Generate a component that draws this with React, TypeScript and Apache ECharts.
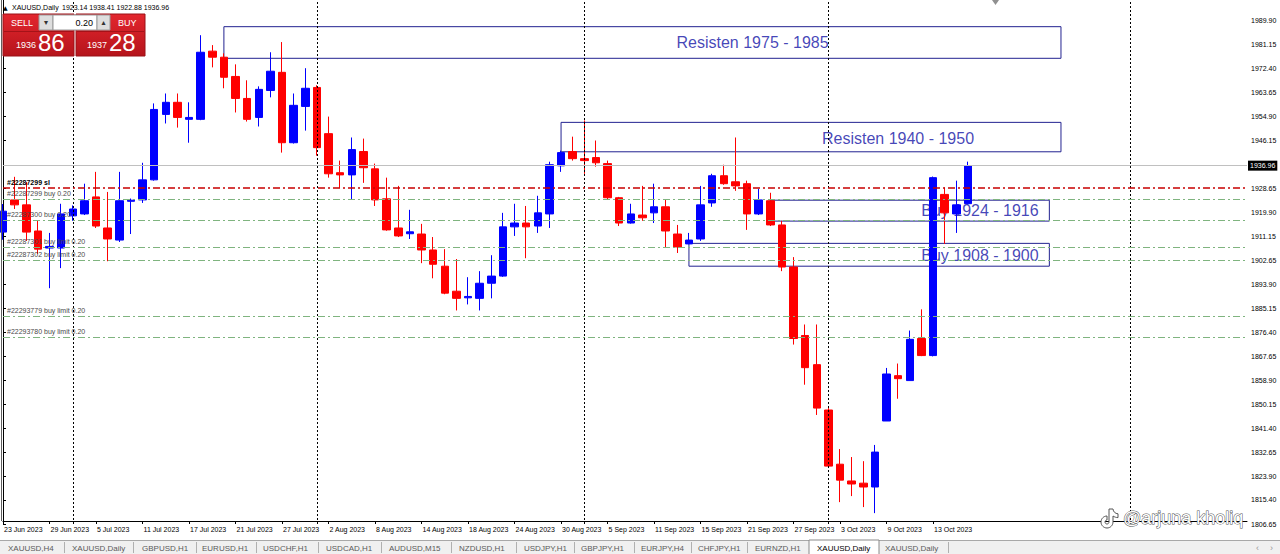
import React, { useEffect, useRef } from 'react';
import * as echarts from 'echarts';

// [open, high, low, close] for each daily bar, 23 Jun 2023 -> 18 Oct 2023
const ohlc: number[][] = [
  [1912.8, 1923.0, 1910.0, 1920.4],
  [1924.5, 1932.9, 1921.2, 1922.7],
  [1922.7, 1931.0, 1909.6, 1912.8],
  [1913.2, 1916.9, 1904.8, 1906.6],
  [1907.0, 1912.5, 1892.4, 1907.6],
  [1907.0, 1923.1, 1899.7, 1919.4],
  [1918.7, 1922.5, 1916.9, 1921.2],
  [1919.4, 1930.4, 1919.0, 1924.2],
  [1925.6, 1934.7, 1914.3, 1915.0],
  [1914.3, 1927.4, 1902.2, 1910.3],
  [1909.9, 1934.7, 1909.2, 1924.2],
  [1924.0, 1925.0, 1912.1, 1924.4],
  [1924.5, 1938.0, 1923.4, 1931.8],
  [1931.8, 1959.6, 1931.5, 1957.4],
  [1955.6, 1963.2, 1952.3, 1960.0],
  [1960.0, 1963.2, 1950.8, 1954.5],
  [1953.8, 1960.0, 1945.3, 1954.5],
  [1953.8, 1984.4, 1953.5, 1978.2],
  [1978.6, 1980.8, 1972.7, 1976.4],
  [1976.4, 1977.8, 1965.1, 1969.1],
  [1969.4, 1973.8, 1956.3, 1961.4],
  [1961.4, 1968.0, 1953.0, 1953.8],
  [1954.5, 1965.8, 1951.2, 1964.7],
  [1964.3, 1978.2, 1961.8, 1971.3],
  [1970.9, 1981.9, 1941.7, 1945.3],
  [1945.3, 1963.2, 1945.0, 1958.9],
  [1958.5, 1972.4, 1949.7, 1965.1],
  [1965.4, 1966.2, 1940.6, 1943.5],
  [1948.6, 1954.8, 1932.6, 1934.0],
  [1934.4, 1938.8, 1928.9, 1933.6],
  [1933.6, 1947.2, 1924.5, 1942.8],
  [1942.1, 1946.8, 1930.7, 1936.2],
  [1935.8, 1937.7, 1922.3, 1924.5],
  [1924.9, 1932.6, 1913.3, 1913.6],
  [1914.3, 1929.6, 1911.0, 1911.4],
  [1912.2, 1920.9, 1910.3, 1912.9],
  [1912.1, 1915.8, 1901.5, 1906.3],
  [1906.3, 1911.0, 1896.0, 1901.1],
  [1900.4, 1906.6, 1890.2, 1890.6],
  [1891.3, 1903.0, 1884.3, 1888.7],
  [1888.9, 1896.4, 1886.5, 1889.4],
  [1888.7, 1898.6, 1884.3, 1894.2],
  [1894.2, 1904.4, 1888.7, 1896.8],
  [1896.8, 1919.8, 1896.5, 1914.7],
  [1914.7, 1923.1, 1911.4, 1916.1],
  [1916.1, 1922.3, 1903.3, 1914.7],
  [1915.0, 1926.0, 1912.5, 1919.8],
  [1919.4, 1938.4, 1914.3, 1937.3],
  [1936.9, 1942.4, 1934.7, 1941.7],
  [1942.1, 1947.5, 1938.8, 1939.5],
  [1939.5, 1953.4, 1934.0, 1938.8],
  [1939.9, 1946.1, 1936.6, 1938.0],
  [1937.7, 1938.8, 1924.5, 1925.3],
  [1925.3, 1925.6, 1915.0, 1916.1],
  [1916.1, 1923.1, 1915.9, 1919.4],
  [1919.0, 1929.6, 1916.9, 1918.0],
  [1919.8, 1930.4, 1916.1, 1922.0],
  [1922.0, 1924.5, 1907.0, 1913.2],
  [1912.1, 1915.4, 1905.2, 1907.4],
  [1908.5, 1912.5, 1908.4, 1909.9],
  [1910.3, 1929.6, 1909.6, 1922.7],
  [1923.4, 1934.0, 1922.0, 1933.3],
  [1933.3, 1937.3, 1930.0, 1930.4],
  [1931.1, 1947.2, 1927.8, 1929.6],
  [1930.4, 1931.5, 1913.6, 1919.4],
  [1919.4, 1928.5, 1919.0, 1924.5],
  [1924.2, 1927.1, 1915.0, 1915.4],
  [1915.4, 1916.9, 1898.6, 1900.1],
  [1900.1, 1903.7, 1871.9, 1874.1],
  [1875.2, 1879.2, 1857.3, 1863.5],
  [1864.6, 1879.2, 1846.3, 1848.8],
  [1848.1, 1848.8, 1827.0, 1827.7],
  [1828.4, 1833.9, 1814.6, 1822.6],
  [1822.3, 1831.0, 1816.8, 1821.2],
  [1821.5, 1829.5, 1812.8, 1820.1],
  [1820.1, 1835.4, 1810.6, 1832.8],
  [1844.1, 1863.4, 1844.1, 1861.2],
  [1860.6, 1865.0, 1852.2, 1859.5],
  [1858.8, 1877.0, 1858.8, 1873.8],
  [1874.1, 1884.7, 1867.7, 1867.9],
  [1867.9, 1933.0, 1867.6, 1932.6],
  [1926.5, 1929.0, 1908.5, 1919.8],
  [1919.4, 1931.5, 1912.5, 1922.7],
  [1923.14, 1938.41, 1922.88, 1936.96],
];

const TOTAL_SLOTS = 108; // bars + empty future space to the right
const dateLabels = [
  '23 Jun 2023', '29 Jun 2023', '5 Jul 2023', '11 Jul 2023', '17 Jul 2023', '21 Jul 2023',
  '27 Jul 2023', '2 Aug 2023', '8 Aug 2023', '14 Aug 2023', '18 Aug 2023', '24 Aug 2023',
  '30 Aug 2023', '5 Sep 2023', '11 Sep 2023', '15 Sep 2023', '21 Sep 2023', '27 Sep 2023',
  '3 Oct 2023', '9 Oct 2023', '13 Oct 2023',
];
const priceTicks = [
  1806.65, 1815.4, 1823.9, 1832.65, 1841.4, 1850.15, 1858.9, 1867.65, 1876.4, 1885.15,
  1893.9, 1902.65, 1911.15, 1919.9, 1928.65, 1946.15, 1954.9, 1963.65, 1972.4, 1981.15, 1989.9,
];
const bidPrice = 1936.96;
const separatorBars = [6, 27, 50, 71, 97];

const orderNames = [
  '#22287299 sl', '#22287299 buy 0.20', '#22287300 buy 0.20', '#22287301 buy limit 0.20',
  '#22287302 buy limit 0.20', '#22293779 buy limit 0.20', '#22293780 buy limit 0.20',
];
const orderPrices = [1928.8, 1924.8, 1917.2, 1907.35, 1902.6, 1882.3, 1874.6];

const zoneFrom = [19, 48, 66, 59];
const zoneTo = [91, 91, 90, 90];
const zoneTop = [1987.5, 1952.7, 1924.4, 1908.7];
const zoneBottom = [1976.0, 1942.0, 1916.8, 1900.4];

const noteTexts = ['Resisten 1975 - 1985', 'Resisten 1940 - 1950', 'Buy 1924 - 1916', 'Buy 1908 - 1900'];
const noteBar = [64.47, 76.98, 84.03, 84.03];
const notePrice = [1981.9, 1947.0, 1920.8, 1904.45];

const tabNames = [
  'XAUUSD,H4', 'XAUUSD,Daily', 'GBPUSD,H1', 'EURUSD,H1', 'USDCHF,H1', 'USDCAD,H1', 'AUDUSD,M15',
  'NZDUSD,H1', 'USDJPY,H1', 'GBPJPY,H1', 'EURJPY,H4', 'CHFJPY,H1', 'EURNZD,H1', 'XAUUSD,Daily', 'XAUUSD,Daily',
];
const tabX = [8, 72, 142, 202, 263, 326, 389, 459, 524, 581, 641, 698, 755, 817, 885];
const tabSepX = [64, 133, 196, 256, 318, 381, 451, 516, 574, 634, 691, 747, 948];
const ACTIVE_TAB = 13;

const FONT = '"Liberation Sans", Arial, sans-serif';

echarts.graphic.registerShape(
  'tiktok',
  echarts.graphic.extendPath(
    'M9 1H13C13.3 3.8 15.2 5.6 18 5.8V9.6C16.2 9.6 14.5 9 13 8V14C13 17.3 10.3 20 7 20C3.7 20 1 17.3 1 14C1 10.7 3.7 8 7 8V12C5.9 12 5 12.9 5 14C5 15.1 5.9 16 7 16C8.1 16 9 15.1 9 14Z',
    {}
  ) as any
);

export default function App() {
  const ref = useRef<HTMLDivElement>(null);
  useEffect(() => {
    document.body.style.margin = '0';
    const chart = echarts.init(ref.current!, null, { renderer: 'svg' });
    const categories = Array.from({ length: TOTAL_SLOTS }, (_, i) => String(i));
    const candles = ohlc.map(([o, h, l, c]) => [o, c, l, h]);

    const redGrad = () =>
      new echarts.graphic.LinearGradient(0, 0, 0, 1, [
        { offset: 0, color: '#e3262e' },
        { offset: 1, color: '#b5141b' },
      ]);

    const markLines: any[] = [];
    separatorBars.forEach((b) =>
      markLines.push({
        xAxis: b,
        lineStyle: { color: '#000', type: [2, 2], width: 1 },
        label: { show: false },
      })
    );
    orderNames.forEach((n, i) => {
      const sl = i === 0;
      markLines.push({
        yAxis: orderPrices[i],
        name: n,
        lineStyle: sl
          ? { color: '#c80000', type: [7, 3, 2, 3], width: 1.5 }
          : { color: '#7fb47f', type: [7, 3, 2, 3], width: 1 },
        label: {
          show: true,
          position: 'insideStartTop',
          formatter: '{b}',
          color: sl ? '#000' : '#4a4a4a',
          fontWeight: sl ? 'bold' : 'normal',
          fontSize: 7,
          fontFamily: FONT,
          distance: [4, 2],
        },
      });
    });
    markLines.push({
      yAxis: bidPrice,
      lineStyle: { color: '#c0c0c0', type: 'solid', width: 1 },
      label: {
        show: true,
        position: 'end',
        formatter: bidPrice.toFixed(2),
        backgroundColor: '#000',
        color: '#fff',
        fontSize: 7,
        fontFamily: FONT,
        padding: [2, 2, 1, 2],
        distance: 1,
      },
    });

    const markAreas = zoneFrom.map((f, i) => [
      {
        xAxis: f,
        yAxis: zoneTop[i],
        itemStyle: { color: 'rgba(0,0,0,0)', borderColor: '#222290', borderWidth: 1 },
        label: { show: false },
      },
      { xAxis: zoneTo[i], yAxis: zoneBottom[i] },
    ]);

    const graphics: any[] = [
      { type: 'line', shape: { x1: 1.5, y1: 0, x2: 1.5, y2: 521 }, style: { stroke: '#606060', lineWidth: 1 }, z: 10 },
      { type: 'polygon', shape: { points: [[992, 0], [999, 0], [995.5, 5]] }, style: { fill: '#909090' }, z: 10 },
      { type: 'text', x: 3, y: 7, style: { text: '▲', fontSize: 6, fill: '#000', fontFamily: 'DejaVu Sans', verticalAlign: 'middle' }, z: 10 },
      { type: 'text', x: 12, y: 7, style: { text: 'XAUUSD,Daily', fontSize: 7, fill: '#000', fontFamily: FONT, verticalAlign: 'middle' }, z: 10 },
      { type: 'text', x: 62, y: 7, style: { text: '1923.14 1938.41 1922.88 1936.96', fontSize: 7, fill: '#000', fontFamily: FONT, verticalAlign: 'middle' }, z: 10 },
      { type: 'rect', shape: { x: 3, y: 14, width: 71, height: 42 }, style: { fill: redGrad(), stroke: '#9a1016', lineWidth: 1 }, z: 10 },
      { type: 'rect', shape: { x: 76, y: 14, width: 69, height: 42 }, style: { fill: redGrad(), stroke: '#9a1016', lineWidth: 1 }, z: 10 },
      { type: 'line', shape: { x1: 4, y1: 31.5, x2: 73, y2: 31.5 }, style: { stroke: '#a51218', lineWidth: 1 }, z: 11 },
      { type: 'line', shape: { x1: 77, y1: 31.5, x2: 144, y2: 31.5 }, style: { stroke: '#a51218', lineWidth: 1 }, z: 11 },
      { type: 'rect', shape: { x: 39, y: 15, width: 14, height: 15 }, style: { fill: '#dedede', stroke: '#9a9a9a', lineWidth: 1 }, z: 12 },
      { type: 'rect', shape: { x: 53, y: 15, width: 44, height: 15 }, style: { fill: '#ffffff', stroke: '#9a9a9a', lineWidth: 1 }, z: 12 },
      { type: 'rect', shape: { x: 97, y: 15, width: 13, height: 15 }, style: { fill: '#dedede', stroke: '#9a9a9a', lineWidth: 1 }, z: 12 },
      { type: 'text', x: 46, y: 22.5, style: { text: '▾', fontSize: 8, fill: '#333', fontFamily: 'DejaVu Sans', align: 'center', verticalAlign: 'middle' }, z: 13 },
      { type: 'text', x: 103.5, y: 22.5, style: { text: '▴', fontSize: 8, fill: '#333', fontFamily: 'DejaVu Sans', align: 'center', verticalAlign: 'middle' }, z: 13 },
      { type: 'text', x: 93, y: 22.5, style: { text: '0.20', fontSize: 9, fill: '#000', fontFamily: FONT, align: 'right', verticalAlign: 'middle' }, z: 13 },
      { type: 'text', x: 11, y: 22.5, style: { text: 'SELL', fontSize: 9, fill: '#fff', fontFamily: FONT, verticalAlign: 'middle' }, z: 13 },
      { type: 'text', x: 118, y: 22.5, style: { text: 'BUY', fontSize: 9, fill: '#fff', fontFamily: FONT, verticalAlign: 'middle' }, z: 13 },
      { type: 'text', x: 16, y: 45, style: { text: '1936', fontSize: 9, fill: '#fff', fontFamily: FONT, verticalAlign: 'middle' }, z: 13 },
      { type: 'text', x: 38, y: 42, style: { text: '86', fontSize: 24, fill: '#fff', fontFamily: FONT, verticalAlign: 'middle' }, z: 13 },
      { type: 'text', x: 87, y: 45, style: { text: '1937', fontSize: 9, fill: '#fff', fontFamily: FONT, verticalAlign: 'middle' }, z: 13 },
      { type: 'text', x: 109, y: 42, style: { text: '28', fontSize: 24, fill: '#fff', fontFamily: FONT, verticalAlign: 'middle' }, z: 13 },
      { type: 'rect', shape: { x: 0, y: 540, width: 1280, height: 14 }, style: { fill: '#f0f0f0' }, z: 10 },
      { type: 'line', shape: { x1: 0, y1: 540.5, x2: 1280, y2: 540.5 }, style: { stroke: '#a8a8a8', lineWidth: 1 }, z: 11 },
      { type: 'rect', shape: { x: 809, y: 540, width: 70, height: 15 }, style: { fill: '#fff', stroke: '#8a8a8a', lineWidth: 1 }, z: 12 },
      { type: 'text', x: 1256, y: 548, style: { text: '‹', fontSize: 9, fill: '#999', fontFamily: FONT, verticalAlign: 'middle' }, z: 12 },
      { type: 'text', x: 1270, y: 548, style: { text: '›', fontSize: 9, fill: '#999', fontFamily: FONT, verticalAlign: 'middle' }, z: 12 },
      { type: 'tiktok', x: 1100, y: 508, scaleX: 1, scaleY: 1, style: { fill: '#fff', stroke: '#555', lineWidth: 1 }, z: 20 },
      { type: 'text', x: 1123, y: 518, style: { text: '@arjuna kholiq', fontSize: 18, fill: '#fff', stroke: '#555', lineWidth: 1, fontFamily: FONT, verticalAlign: 'middle' }, z: 20 },
    ];
    tabSepX.forEach((x) =>
      graphics.push({ type: 'line', shape: { x1: x + 0.5, y1: 542, x2: x + 0.5, y2: 553 }, style: { stroke: '#b0b0b0', lineWidth: 1 }, z: 12 })
    );
    tabNames.forEach((t, i) =>
      graphics.push({
        type: 'text',
        x: tabX[i],
        y: 548,
        style: {
          text: t,
          fontSize: 8,
          fill: i === ACTIVE_TAB ? '#000' : '#5a5a5a',
          fontFamily: FONT,
          verticalAlign: 'middle',
        },
        z: 13,
      })
    );

    const option: any = {
      animation: false,
      backgroundColor: '#ffffff',
      textStyle: { fontFamily: FONT },
      grid: { left: 3, right: 33, top: 0, bottom: 30, containLabel: false },
      xAxis: [
        {
          type: 'category',
          data: categories,
          boundaryGap: false,
          offset: -3,
          axisLine: { show: true, lineStyle: { color: '#000', width: 1 } },
          axisTick: {
            show: true,
            length: 3,
            interval: (i: number) => i % 4 === 0 && i / 4 < dateLabels.length,
            lineStyle: { color: '#000' },
          },
          axisLabel: {
            show: true,
            interval: (i: number) => i % 4 === 0 && i / 4 < dateLabels.length,
            formatter: (_v: string, i: number) => dateLabels[i / 4] ?? '',
            align: 'left',
            fontSize: 7,
            color: '#000',
            margin: 5,
            padding: [0, 0, 0, 1],
            fontFamily: FONT,
          },
          splitLine: { show: false },
        },
        { type: 'value', min: 0, max: TOTAL_SLOTS - 1, show: false },
      ],
      yAxis: {
        type: 'value',
        position: 'right',
        min: 1806.65,
        max: 1997.2,
        axisLine: { show: true, lineStyle: { color: '#000', width: 1 } },
        axisTick: { show: true, length: 3, customValues: priceTicks, lineStyle: { color: '#000' } },
        axisLabel: {
          show: true,
          customValues: priceTicks,
          formatter: (v: number) => v.toFixed(2),
          fontSize: 7,
          color: '#000',
          margin: 4,
          fontFamily: FONT,
        },
        splitLine: { show: false },
      },
      series: [
        {
          type: 'scatter',
          xAxisIndex: 1,
          z: 1,
          silent: true,
          symbolSize: 0,
          data: noteTexts.map((t, i) => ({ name: t, value: [noteBar[i], notePrice[i]] })),
          label: {
            show: true,
            position: 'inside',
            formatter: '{b}',
            color: '#1414a6',
            fontSize: 16,
            fontFamily: FONT,
          },
          markLine: { symbol: ['none', 'none'], silent: true, animation: false, data: markLines },
          markArea: { silent: true, animation: false, data: markAreas },
        },
        {
          type: 'candlestick',
          xAxisIndex: 0,
          z: 2,
          clip: false,
          barWidth: 8,
          data: candles,
          itemStyle: {
            color: '#0000ff',
            color0: '#ff0000',
            borderColor: '#0000ff',
            borderColor0: '#ff0000',
            borderWidth: 1,
          },
        },
      ],
      graphic: graphics,
    };
    chart.setOption(option);
    return () => chart.dispose();
  }, []);
  return <div ref={ref} style={{ width: 1280, height: 554, background: '#fff' }} />;
}
